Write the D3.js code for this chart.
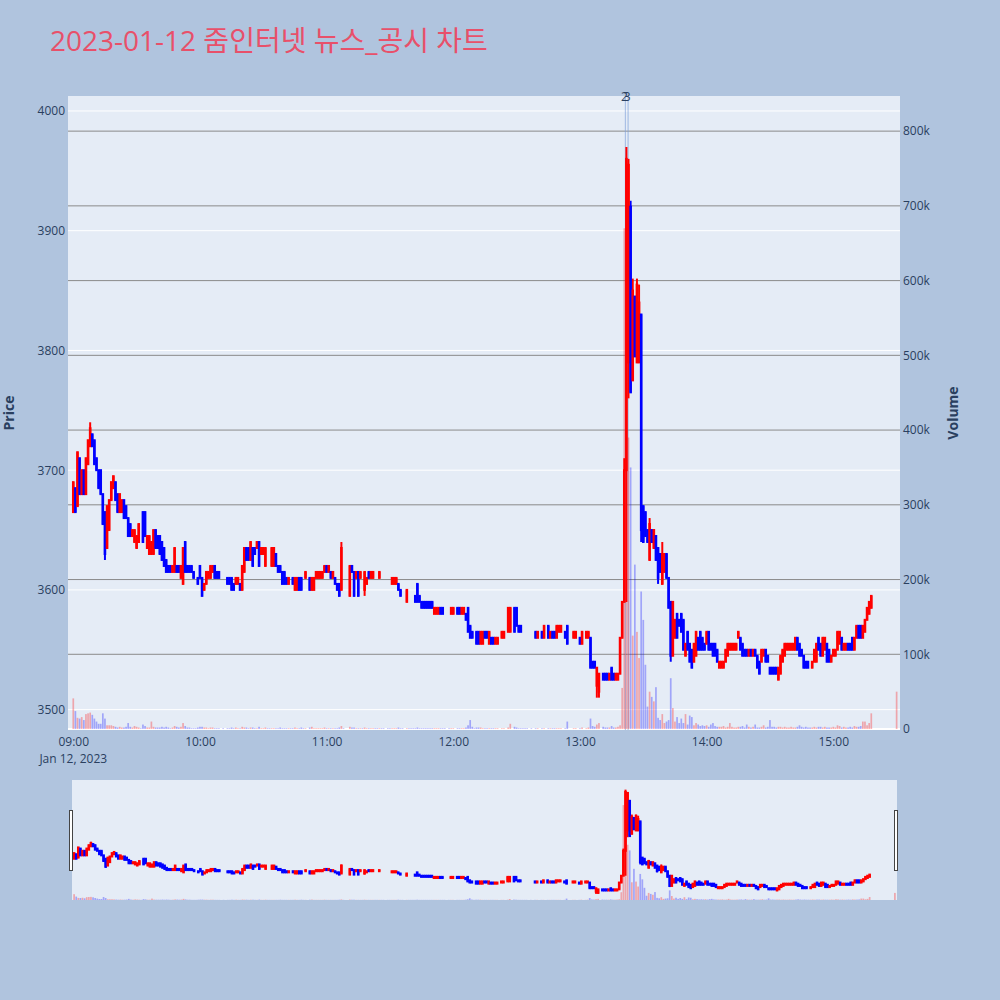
<!DOCTYPE html>
<html><head><meta charset="utf-8">
<script src="https://cdn.jsdelivr.net/npm/d3@7"></script>
<style>body{margin:0;background:#b0c4de;} svg{display:block;}</style>
</head><body>
<svg id="chart" width="1000" height="1000"></svg>
<script>
const titleText = "2023-01-12 줌인터넷 뉴스_공시 차트";
const dateLabel = "Jan 12, 2023";
// one entry per minute from 09:00 (index 0) to 15:30 (index 390); null = no trade
const opens = [3665,3685,3670,3710,3680,3700,3680,3705,3720,3730,
3725,3710,3700,3700,3680,3665,3635,3650,3675,3685,
3690,3680,3665,3665,3675,3670,3660,3655,3645,3640,
3635,3640,3670,3665,3665,3635,3630,3630,3630,3650,
3645,3645,3640,3635,3625,3620,3620,3615,3615,3620,
3620,3610,3605,3640,3620,3620,3620,3615,3610,3610,
3620,3610,3600,3605,3610,3610,3615,3620,3615,3615,
null,3615,null,3610,3610,3610,3605,3605,3605,3605,
3600,3615,3635,3635,3625,3635,3635,3635,3640,3630,
3630,3620,3630,3630,3620,3620,3630,3620,3620,3615,
3615,3610,3605,3610,3610,3600,3600,3610,3610,3600,
3610,null,3610,3600,3600,3610,3610,3610,3610,3615,
3620,3615,3615,3610,3610,3605,3605,3600,3630,null,
null,3595,3620,3615,3610,3615,3610,3600,3600,3605,
3615,3610,3610,3610,3610,3610,3610,3610,null,3605,
3605,3605,3605,3605,3605,3600,3590,null,3590,3600,
3600,3590,3595,3605,3595,3590,3590,3590,3590,3590,
3590,3580,3580,3580,3585,3585,3585,null,3580,3580,
3580,null,3585,3585,3580,3580,3580,3585,3570,3565,
3560,3565,3565,3555,3555,3565,3565,3555,3560,3560,
3555,3555,null,3560,3560,null,3565,3565,null,3585,
3585,3570,3570,3565,3565,3565,null,3570,null,3565,
3560,null,3565,3560,null,3570,3560,3565,3565,3560,
3565,3565,null,3565,3570,null,null,3560,3560,null,
3560,3555,null,3560,3560,3560,3540,3540,3520,3515,
null,3530,3530,3530,3525,3535,3530,3525,3525,3530,
3560,3590,3700,3790,3920,3775,3845,3790,3790,3830,
3670,3665,3650,3625,3650,3635,3645,3635,3630,3605,
3615,3630,3610,3590,3545,3560,3580,3575,3580,3575,
3545,3565,3555,3550,3540,3545,3560,3565,3560,3555,
3555,3565,3555,3555,3555,3550,3535,3535,3535,3540,
3545,3550,3550,3550,3550,3560,3560,3555,3550,3550,
3545,3550,3545,3550,3545,3540,3540,3545,3550,3545,
3535,3535,3535,3535,3525,3530,3540,3545,3550,3550,
3550,3550,3550,3560,3555,3550,3545,3540,3540,3535,
3535,3540,3540,3560,3555,3545,3550,3555,3550,3540,
3545,3545,3550,3555,3560,3550,3550,3555,3555,3560,
3550,3560,3570,3570,3560,3565,3575,3580,3585,null,
null,null,null,null,null,null,null,null,null,null,
3600];
const closes = [3690,3665,3715,3680,3700,3680,3710,3725,3735,3720,
3705,3700,3685,3680,3655,3630,3670,3675,3690,3695,
3675,3665,3680,3675,3660,3660,3645,3645,3650,3650,
3645,3655,3670,3640,3645,3645,3645,3640,3650,3635,
3635,3630,3625,3620,3615,3615,3615,3620,3635,3615,
3615,3620,3635,3615,3615,3615,3615,3610,3610,3605,
3610,3595,3605,3615,3615,3620,3620,3610,3610,3610,
null,3615,null,3605,3605,3600,3600,3610,3610,3600,
3620,3635,3625,3625,3640,3620,3630,3640,3620,3635,
3635,3635,3630,3630,3635,3635,3620,3615,3615,3605,
3605,3605,3610,3610,3605,3610,3610,3600,3600,3600,
3615,null,3600,3610,3610,3615,3615,3615,3615,3620,
3615,3620,3610,3615,3605,3600,3595,3635,3630,null,
null,3620,3615,3595,3615,3595,3615,3600,3615,3610,
3610,3615,3615,3610,3610,3615,3610,3610,null,3605,
3605,3610,3610,3610,3600,3595,3590,null,3600,3600,
3600,3590,3590,3590,3590,3585,3585,3585,3585,3585,
3585,3585,3585,3585,3580,3580,3585,null,3580,3585,
3585,null,3580,3580,3585,3585,3575,3565,3560,3560,
3560,3555,3555,3565,3565,3560,3560,3565,3555,3555,
3560,3560,null,3565,3565,null,3585,3585,null,3565,
3570,3565,3565,3565,3565,3565,null,3570,null,3560,
3565,null,3560,3570,null,3560,3565,3560,3560,3570,
3570,3570,null,3560,3555,null,null,3565,3565,null,
3555,3565,null,3565,3565,3535,3535,3535,3535,3530,
null,3525,3525,3525,3530,3525,3525,3530,3530,3560,
3590,3700,3960,3955,3765,3850,3795,3855,3840,3650,
3640,3645,3640,3655,3640,3650,3625,3610,3615,3630,
3630,3610,3585,3545,3590,3575,3560,3570,3565,3550,
3555,3550,3540,3535,3555,3565,3550,3550,3550,3550,
3565,3550,3550,3545,3545,3540,3540,3540,3540,3550,
3555,3555,3555,3555,3555,3565,3550,3545,3545,3545,
3550,3545,3550,3545,3535,3530,3550,3550,3540,3540,
3530,3530,3530,3530,3535,3545,3550,3555,3555,3555,
3555,3555,3560,3550,3545,3545,3535,3535,3535,3535,
3540,3550,3555,3550,3545,3560,3560,3540,3540,3545,
3550,3550,3565,3565,3550,3555,3555,3550,3550,3550,
3560,3570,3560,3560,3570,3575,3585,3590,3595,null,
null,null,null,null,null,null,null,null,null,null,
3600];
// volume in thousands of shares
const volumesK = [41,24,15,14,16,12,20,21,22,19,
14,10,7,7,21,14,5,5,5,4,
3,2,3,2,2,3,8,3,2,4,
3,2,1,6,4,2,2,10,3,2,
2,2,3,2,3,2,1,2,4,3,
2,3,8,4,2,2,1,1,1,2,
3,3,2,2,1,2,2,1,1,1,
0,1,0,1,1,2,1,2,1,1,
3,2,2,1,2,2,1,1,3,1,
1,2,1,1,1,1,1,1,2,1,
1,1,1,1,1,2,1,1,2,1,
1,0,2,3,1,1,1,1,1,2,
1,1,1,1,1,1,2,4,1,0,
0,3,2,2,1,1,1,1,2,1,
1,1,1,1,1,1,1,1,0,1,
1,1,1,1,2,1,1,0,1,1,
1,1,1,2,1,1,1,1,1,1,
1,1,1,1,1,1,1,0,1,1,
1,0,1,1,1,1,2,5,12,3,
1,2,2,2,1,1,1,1,1,1,
1,1,0,1,1,0,2,7,0,3,
2,1,1,1,1,1,0,1,0,1,
1,0,1,1,0,1,1,1,1,1,
1,1,0,1,10,0,0,1,1,0,
1,2,0,1,2,14,4,3,6,8,
0,3,2,2,2,4,2,2,3,5,
55,670,760,390,350,125,220,130,95,184,
146,86,30,50,43,37,56,15,12,20,
8,10,12,68,28,10,16,8,14,8,
20,6,18,16,5,8,6,4,5,4,
5,3,6,8,4,3,3,3,4,2,
3,8,3,2,2,3,3,4,2,6,
3,2,3,6,2,2,3,5,2,3,
12,3,3,2,3,3,2,3,2,2,
3,2,2,3,5,3,2,3,2,2,
2,3,2,3,3,2,3,2,2,2,
3,2,5,4,2,3,2,2,3,2,
4,3,3,4,10,10,5,8,21,0,
0,0,0,0,0,0,0,0,0,0,
50];
// wicks beyond the body: [minute index, price]
const wickHighs = [[8,3740],[127,3640],[261,3710],[262,3970],[263,3960],[264,3925],[265,3860],[267,3860],[268,3855],[273,3660],[279,3640]];
const wickLows = [[15,3625],[138,3595],[248,3510],[249,3510],[262,3590],[263,3760],[269,3640],[277,3605],[283,3540],[334,3525]];
const priceTicks = [3500,3600,3700,3800,3900,4000];
const volumeTicks = [0,100,200,300,400,500,600,700,800];
const volumeTickLabels = ["0","100k","200k","300k","400k","500k","600k","700k","800k"];
const timeTickMinutes = [0,60,120,180,240,300,360];
const timeTickLabels = ["09:00","10:00","11:00","12:00","13:00","14:00","15:00"];
const newsTimes = [261.5, 262.8]; // minutes after 09:00 (13:21:30, 13:22:48)
const newsLabels = ["2","3"];

const FONT = "'Open Sans', 'Noto Sans CJK KR', sans-serif";
const TXT = "#2a3f5f";
const svg = d3.select("#chart");
svg.append("rect").attr("width",1000).attr("height",1000).attr("fill","#b0c4de");

const P = {l:68, r:900, t:96, b:730};
const x = d3.scaleLinear().domain([-2.5, 391.6]).range([P.l, P.r]);
const y = d3.scaleLinear().domain([3483, 4012.5]).range([P.b, P.t]);
const yv = d3.scaleLinear().domain([-1.3, 847]).range([P.b, P.t]);

const highMap = new Map(wickHighs), lowMap = new Map(wickLows);
const candles = [];
let prevClose = null;
opens.forEach((o,i)=>{
  if (o == null) return;
  const c = closes[i];
  const up = c > o || (c === o && prevClose != null && c >= prevClose && i === 390);
  candles.push({i, o, c,
    h: highMap.has(i) ? highMap.get(i) : Math.max(o,c),
    l: lowMap.has(i) ? lowMap.get(i) : Math.min(o,c),
    v: volumesK[i], color: up ? "#ff0000" : "#0000ff"});
  prevClose = c;
});

svg.append("title").text(titleText);
svg.append("text").attr("x",50).attr("y",51).attr("font-family",FONT).attr("font-size",28)
  .attr("fill","#e8506a").text(titleText);

// plot background
svg.append("rect").attr("x",P.l).attr("y",P.t).attr("width",P.r-P.l).attr("height",P.b-P.t).attr("fill","#e5ecf6");
svg.append("clipPath").attr("id","pclip").append("rect").attr("x",P.l).attr("y",P.t).attr("width",P.r-P.l).attr("height",P.b-P.t);

// price grid (white) + labels
const gy = svg.append("g").attr("transform",`translate(${P.l},0)`)
  .call(d3.axisLeft(y).tickValues(priceTicks).tickSize(0).tickPadding(3).tickFormat(d3.format("d")));
gy.select(".domain").remove();
gy.selectAll("text").attr("font-family",FONT).attr("font-size",12).attr("fill",TXT);
svg.append("g").selectAll("line").data(priceTicks).join("line")
  .attr("x1",P.l).attr("x2",P.r).attr("y1",d=>y(d)).attr("y2",d=>y(d)).attr("stroke","#ffffff").attr("stroke-width",1);

// volume grid (gray) + labels
svg.append("g").selectAll("line").data(volumeTicks).join("line")
  .attr("x1",P.l).attr("x2",P.r).attr("y1",d=>yv(d)).attr("y2",d=>yv(d))
  .attr("stroke",d=>d===0?"#ffffff":"#8a8a8a").attr("stroke-width",d=>d===0?2:1);
const gv = svg.append("g").attr("transform",`translate(${P.r},0)`)
  .call(d3.axisRight(yv).tickValues(volumeTicks).tickSize(0).tickPadding(3).tickFormat((d,k)=>volumeTickLabels[k]));
gv.select(".domain").remove();
gv.selectAll("text").attr("font-family",FONT).attr("font-size",12).attr("fill",TXT);

// time axis
const gx = svg.append("g").attr("transform",`translate(0,${P.b})`)
  .call(d3.axisBottom(x).tickValues(timeTickMinutes).tickSize(0).tickPadding(7).tickFormat((d,k)=>timeTickLabels[k]));
gx.select(".domain").remove();
gx.selectAll("text").attr("font-family",FONT).attr("font-size",12).attr("fill",TXT);
svg.append("text").attr("x",x(0)).attr("y",763).attr("text-anchor","middle").attr("font-family",FONT)
  .attr("font-size",12).attr("fill",TXT).text(dateLabel);

// axis titles
svg.append("text").attr("transform",`translate(14,${(P.t+P.b)/2}) rotate(-90)`).attr("text-anchor","middle")
  .attr("font-family",FONT).attr("font-size",14).attr("font-weight","bold").attr("fill",TXT).text("Price");
svg.append("text").attr("transform",`translate(958,${(P.t+P.b)/2}) rotate(-90)`).attr("text-anchor","middle")
  .attr("font-family",FONT).attr("font-size",14).attr("font-weight","bold").attr("fill",TXT).text("Volume");

function drawVolumes(g, xs, vs, w) {
  g.selectAll("rect.vol").data(candles.filter(d=>d.v>0)).join("rect").attr("class","vol")
    .attr("x",d=>xs(d.i)-w/2).attr("width",w)
    .attr("y",d=>vs(d.v)).attr("height",d=>Math.max(0,vs(0)-vs(d.v)))
    .attr("fill",d=>d.color).attr("fill-opacity",0.3);
}
function drawCandles(g, xs, ys, lw) {
  g.selectAll("line.wick").data(candles).join("line").attr("class","wick")
    .attr("x1",d=>xs(d.i)).attr("x2",d=>xs(d.i)).attr("y1",d=>ys(d.h)).attr("y2",d=>ys(d.l))
    .attr("stroke",d=>d.color).attr("stroke-width",lw);
  g.selectAll("rect.body").data(candles).join("rect").attr("class","body")
    .attr("x",d=>xs(d.i)-0.3).attr("width",0.6)
    .attr("y",d=>ys(Math.max(d.o,d.c))).attr("height",d=>Math.abs(ys(d.o)-ys(d.c)))
    .attr("fill",d=>d.color).attr("stroke",d=>d.color).attr("stroke-width",lw);
}

const main = svg.append("g").attr("clip-path","url(#pclip)");
// news markers
main.selectAll("line.news").data(newsTimes).join("line").attr("class","news")
  .attr("x1",d=>x(d)).attr("x2",d=>x(d)).attr("y1",P.t).attr("y2",P.b)
  .attr("stroke","#7f9fd8").attr("stroke-opacity",0.7).attr("stroke-width",1);
drawVolumes(main.append("g"), x, yv, 1.7);
drawCandles(main.append("g"), x, y, 2);
svg.selectAll("text.news").data(newsTimes).join("text").attr("class","news")
  .attr("x",d=>x(d)-1).attr("y",101).attr("text-anchor","middle").attr("font-family",FONT)
  .attr("font-size",12).attr("fill",TXT).text((d,k)=>newsLabels[k]);

// range slider
const S = {l:72, r:897, t:780, b:900};
svg.append("rect").attr("x",S.l).attr("y",S.t).attr("width",S.r-S.l).attr("height",S.b-S.t).attr("fill","#e5ecf6");
svg.append("clipPath").attr("id","sclip").append("rect").attr("x",S.l).attr("y",S.t).attr("width",S.r-S.l).attr("height",S.b-S.t);
const xs = d3.scaleLinear().domain([-1, 391]).range([S.l, S.r]);
const ys = d3.scaleLinear().domain([3483, 4012.5]).range([S.b, S.t]);
const vs = d3.scaleLinear().domain([0, 847]).range([S.b, S.t]);
const slider = svg.append("g").attr("clip-path","url(#sclip)");
drawVolumes(slider.append("g"), xs, vs, 1.7);
drawCandles(slider.append("g"), xs, ys, 2);
[S.l, S.r].forEach(hx=>{
  svg.append("rect").attr("x",hx-2.5).attr("y",810.5).attr("width",3).attr("height",60)
    .attr("fill","#ffffff").attr("stroke","#444").attr("stroke-width",1);
});
</script>
</body></html>
